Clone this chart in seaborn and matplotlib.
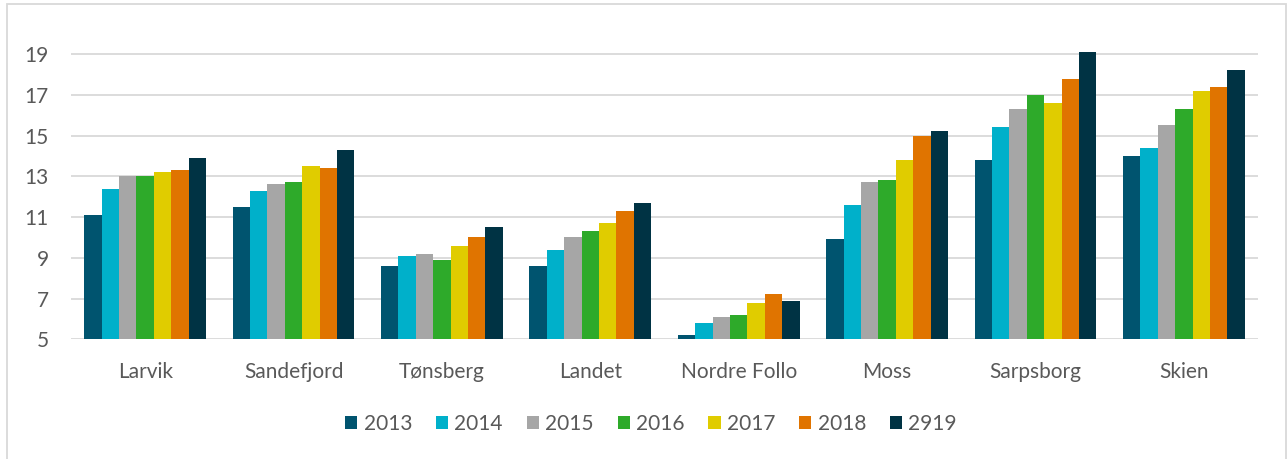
import matplotlib
matplotlib.use("Agg")
import matplotlib.pyplot as plt
import seaborn as sns
import pandas as pd
from matplotlib.patches import Rectangle

categories = ["Larvik", "Sandefjord", "Tønsberg", "Landet", "Nordre Follo", "Moss", "Sarpsborg", "Skien"]
years = ["2013", "2014", "2015", "2016", "2017", "2018", "2919"]
v2013 = [11.1, 11.5, 8.6, 8.6, 5.2, 9.9, 13.8, 14.0]
v2014 = [12.4, 12.3, 9.1, 9.4, 5.8, 11.6, 15.4, 14.4]
v2015 = [13.0, 12.6, 9.2, 10.0, 6.1, 12.7, 16.3, 15.5]
v2016 = [13.0, 12.7, 8.9, 10.3, 6.2, 12.8, 17.0, 16.3]
v2017 = [13.2, 13.5, 9.6, 10.7, 6.8, 13.8, 16.6, 17.2]
v2018 = [13.3, 13.4, 10.0, 11.3, 7.2, 15.0, 17.8, 17.4]
v2919 = [13.9, 14.3, 10.5, 11.7, 6.9, 15.2, 19.1, 18.2]
yticks = [5, 7, 9, 11, 13, 15, 17, 19]
colors = ["#00546F", "#00B0CA", "#A6A6A6", "#2EAA2A", "#E0CC00", "#E07400", "#003344"]

series = [v2013, v2014, v2015, v2016, v2017, v2018, v2919]
rows = []
for y, vals in zip(years, series):
    for c, v in zip(categories, vals):
        rows.append({"Kommune": c, "År": y, "Verdi": v})
df = pd.DataFrame(rows)

sns.set_theme(style="white")
plt.rcParams["font.family"] = ["Lato", "DejaVu Sans"]
txt = "#595959"
fs = 15

fig = plt.figure(figsize=(12.87, 4.59), dpi=100)
ax = fig.add_axes([71 / 1287, (459 - 339.3) / 459, (1258 - 71) / 1287, (339.3 - 51) / 459])

sns.barplot(data=df, x="Kommune", y="Verdi", hue="År", palette=colors,
            width=0.82, ax=ax, saturation=1, edgecolor="none", legend=True)

ax.set_ylim(5, 19.15)
ax.set_yticks(yticks)
ax.set_yticklabels([str(t) for t in yticks], fontsize=fs, color=txt)
ax.tick_params(axis="x", labelsize=fs, colors=txt, pad=16, length=0)
ax.tick_params(axis="y", length=0, pad=16)
for lbl in ax.get_xticklabels():
    lbl.set_color(txt)
ax.set_xlabel("")
ax.set_ylabel("")
ax.set_xlim(-0.5, len(categories) - 0.5)
ax.yaxis.grid(True, color="#D9D9D9", linewidth=1.3)
ax.set_axisbelow(True)
for s in ax.spines.values():
    s.set_visible(False)

handles, labels = ax.get_legend_handles_labels()
ax.get_legend().remove()
fig.legend(handles, labels, loc="center", bbox_to_anchor=(651 / 1287, (459 - 424) / 459),
           ncol=7, frameon=False, fontsize=fs, labelcolor=txt,
           handlelength=0.58, handleheight=0.58, handletextpad=0.3, columnspacing=1.15)

fig.patches.append(Rectangle((7 / 1287, -0.1), (1286 - 7) / 1287, (459 - 4) / 459 + 0.1,
                             transform=fig.transFigure, fill=False,
                             edgecolor="#D9D9D9", linewidth=1.3, zorder=0))

fig.savefig("out.png", dpi=100)
